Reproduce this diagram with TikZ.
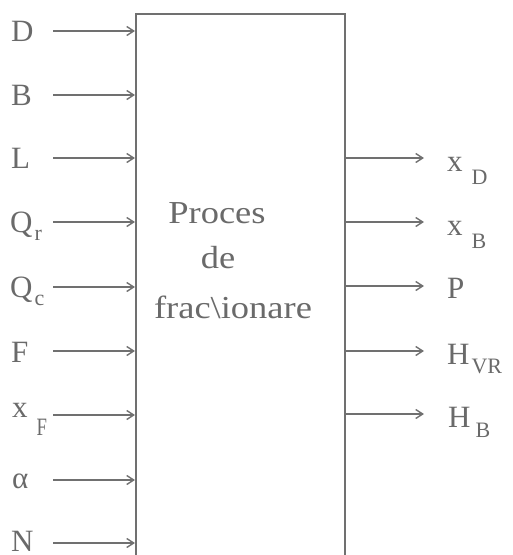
\documentclass[tikz,border=0pt]{standalone}
\usepackage{fontspec}
\setmainfont{Liberation Serif}
\usetikzlibrary{arrows.meta}
\definecolor{ink}{HTML}{6A6A6A}
\definecolor{lin}{HTML}{707070}
\newcommand{\sbx}[2]{\raisebox{-#1pt}{\fontsize{22}{22}\selectfont #2}}
\begin{document}
\begin{tikzpicture}[x=1pt,y=-1pt,
  lab/.style={anchor=base west,inner sep=0pt,text=ink,font=\fontsize{31}{31}\selectfont},
  boxtxt/.style={anchor=base,inner sep=0pt,text=ink,font=\fontsize{32}{32}\selectfont},
  arr/.style={draw=lin,line width=1.5pt,-{Straight Barb[length=7pt,width=9pt,line width=1.4pt]}}]
\useasboundingbox (0,0) rectangle (513,555);
\begin{scope}
\clip (0,0) rectangle (513,555);
\node[draw=lin,line width=1.6pt,minimum width=209pt,minimum height=600pt,inner sep=0pt,anchor=north west] (box) at (135,13) {};
\end{scope}
% box text
\node[boxtxt] (t1) at (217,223) {\scalebox{1.14}[1]{Proces}};
\node[boxtxt] (t2) at (218,268) {\scalebox{1.14}[1]{de}};
\node[boxtxt] (t3) at (233,318) {\scalebox{1.14}[1]{frac\textbackslash ionare}};
% inputs
\foreach \n/\y in {1/31,2/95,3/158,4/222,5/287,6/351,7/415,8/480,9/543}{
  \coordinate (a\n) at (53,\y);
  \draw[arr] (a\n) -- (a\n -| box.west);
}
\node[lab] (iD) at (11,41) {D};
\node[lab] (iB) at (11,105) {B};
\node[lab] (iL) at (11,168) {L};
\node[lab] (iQr) at (10,232) {Q\hspace{2pt}\sbx{8}{r}};
\node[lab] (iQc) at (10,297) {Q\hspace{2pt}\sbx{8}{c}};
\node[lab] (iF) at (11,362) {F};
\node[lab] (ixF) at (12,417) {x\hspace{9pt}\raisebox{-18pt}{\fontsize{25}{25}\selectfont\scalebox{0.75}[1]{F}}};
\node[lab] (ial) at (12,488) {α};
\node[lab] (iN) at (11,551) {N};
% outputs
\foreach \n/\y in {1/158,2/222,3/286,4/351,5/414}{
  \coordinate (o\n) at (424,\y);
  \draw[arr] (o\n -| box.east) -- (o\n);
}
\node[lab] (oxD) at (447,171) {x\hspace{9pt}\sbx{13}{D}};
\node[lab] (oxB) at (447,235) {x\hspace{9pt}\sbx{13}{B}};
\node[lab] (oP) at (447,298) {P};
\node[lab] (oHVR) at (447,364) {H\hspace{2pt}\sbx{9}{VR}};
\node[lab] (oHB) at (448,427) {H\hspace{5pt}\sbx{10}{B}};
\end{tikzpicture}
\end{document}
